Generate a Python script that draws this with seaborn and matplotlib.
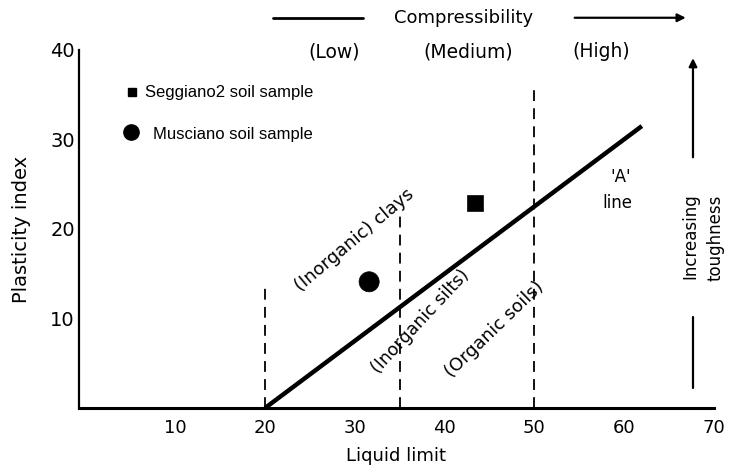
import matplotlib
matplotlib.use("Agg")
import matplotlib.pyplot as plt
import seaborn as sns
import pandas as pd

# Plasticity chart data
a_line_ll = [20, 62]          # liquid limit at A-line ends
a_line_pi = [0, 31.5]         # plasticity index at A-line ends
divider_ll = [20, 35, 50]     # compressibility boundaries
divider_top = [14, 22, 36]    # heights reached by the boundary lines

sample_names = ["Seggiano2 soil sample", "Musciano soil sample"]
sample_ll = [43.4, 31.6]
sample_pi = [22.9, 14.1]
sample_marker = ["s", "o"]

x_ticks = [10, 20, 30, 40, 50, 60, 70]
y_ticks = [10, 20, 30, 40]
compress_labels = ["(Low)", "(Medium)", "(High)"]

sns.set_style("white")
plt.rcParams["font.family"] = ["DejaVu Sans"]
plt.rcParams["text.color"] = "black"
plt.rcParams["axes.labelcolor"] = "black"
plt.rcParams["xtick.color"] = "black"
plt.rcParams["ytick.color"] = "black"

fig = plt.figure(figsize=(7.29, 4.72), dpi=100)
ax = fig.add_axes([0.1084, 0.1356, 0.8705, 0.7585])

# A line
aline = pd.DataFrame({"ll": a_line_ll, "pi": a_line_pi})
sns.lineplot(data=aline, x="ll", y="pi", ax=ax, color="black", lw=3.2,
             solid_capstyle="butt")

# vertical dashed boundaries
for x, top in zip(divider_ll, divider_top):
    ax.plot([x, x], [0, top], color="black", lw=1.3, ls=(0, (6, 4)))

# soil samples
samples = pd.DataFrame({"name": sample_names, "ll": sample_ll, "pi": sample_pi})
sns.scatterplot(data=samples, x="ll", y="pi", style="name",
                markers=dict(zip(sample_names, sample_marker)),
                color="black", edgecolor="black", ax=ax, legend=False)
for coll in ax.collections:
    coll.set_sizes([120, 210])

# key for the two samples
ax.plot([5.2], [35.3], marker="s", ms=6, color="black", clip_on=False)
ax.text(6.6, 35.3, sample_names[0], family="Liberation Sans", fontsize=12,
        va="center", ha="left")
ax.plot([5.1], [30.8], marker="o", ms=11, color="black", clip_on=False)
ax.text(7.5, 30.6, sample_names[1], family="Liberation Sans", fontsize=12,
        va="center", ha="left")

# region annotations
ax.text(30.0, 18.8, "(Inorganic) clays", rotation=40, fontsize=13,
        ha="center", va="center", rotation_mode="anchor")
ax.text(37.3, 9.7, "(Inorganic silts)", rotation=47, fontsize=12.5,
        ha="center", va="center", rotation_mode="anchor")
ax.text(45.6, 8.8, "(Organic soils)", rotation=44, fontsize=13,
        ha="center", va="center", rotation_mode="anchor")
ax.text(59.6, 25.8, "'A'", fontsize=12, ha="center", va="center")
ax.text(59.3, 22.9, "line", fontsize=12, ha="center", va="center")

# compressibility heading
ax.plot([20.9, 30.9], [43.6, 43.6], color="black", lw=2, clip_on=False)
ax.annotate("", xy=(67.2, 43.6), xytext=(54.2, 43.6), annotation_clip=False,
            arrowprops=dict(arrowstyle="-|>", color="black", lw=1.6,
                            mutation_scale=12))
ax.text(42.1, 43.6, "Compressibility", fontsize=13, ha="center", va="center")
for x, lab in zip([27.7, 42.6, 57.5], compress_labels):
    ax.text(x, 39.8, lab, fontsize=13.5, ha="center", va="center")

# toughness arrow
ax.annotate("", xy=(67.7, 39.4), xytext=(67.7, 27.7), annotation_clip=False,
            arrowprops=dict(arrowstyle="-|>", color="black", lw=1.6,
                            mutation_scale=12))
ax.plot([67.7, 67.7], [2.2, 10.2], color="black", lw=1.6, clip_on=False)
ax.text(67.4, 19.2, "Increasing", rotation=90, fontsize=12, ha="center", va="center")
ax.text(70.2, 19.0, "toughness", rotation=90, fontsize=12, ha="center", va="center")

ax.set_xlim(-0.74, 70)
ax.set_ylim(0, 40)
ax.set_xticks(x_ticks)
ax.set_yticks(y_ticks)
ax.set_xticklabels([str(t) for t in x_ticks], fontsize=13)
ax.set_yticklabels([str(t) for t in y_ticks], fontsize=14)
ax.tick_params(axis="x", direction="in", length=6, width=1, pad=8)
ax.tick_params(axis="y", direction="in", length=8, width=1.2, pad=3)
ax.set_xlabel("Liquid limit", fontsize=13, labelpad=7)
ax.set_ylabel("Plasticity index", fontsize=14, labelpad=14)

sns.despine(ax=ax, top=True, right=True)
ax.spines["left"].set_linewidth(1.6)
ax.spines["bottom"].set_linewidth(2.2)
ax.spines["left"].set_color("black")
ax.spines["bottom"].set_color("black")

fig.savefig("out.png", dpi=100)
